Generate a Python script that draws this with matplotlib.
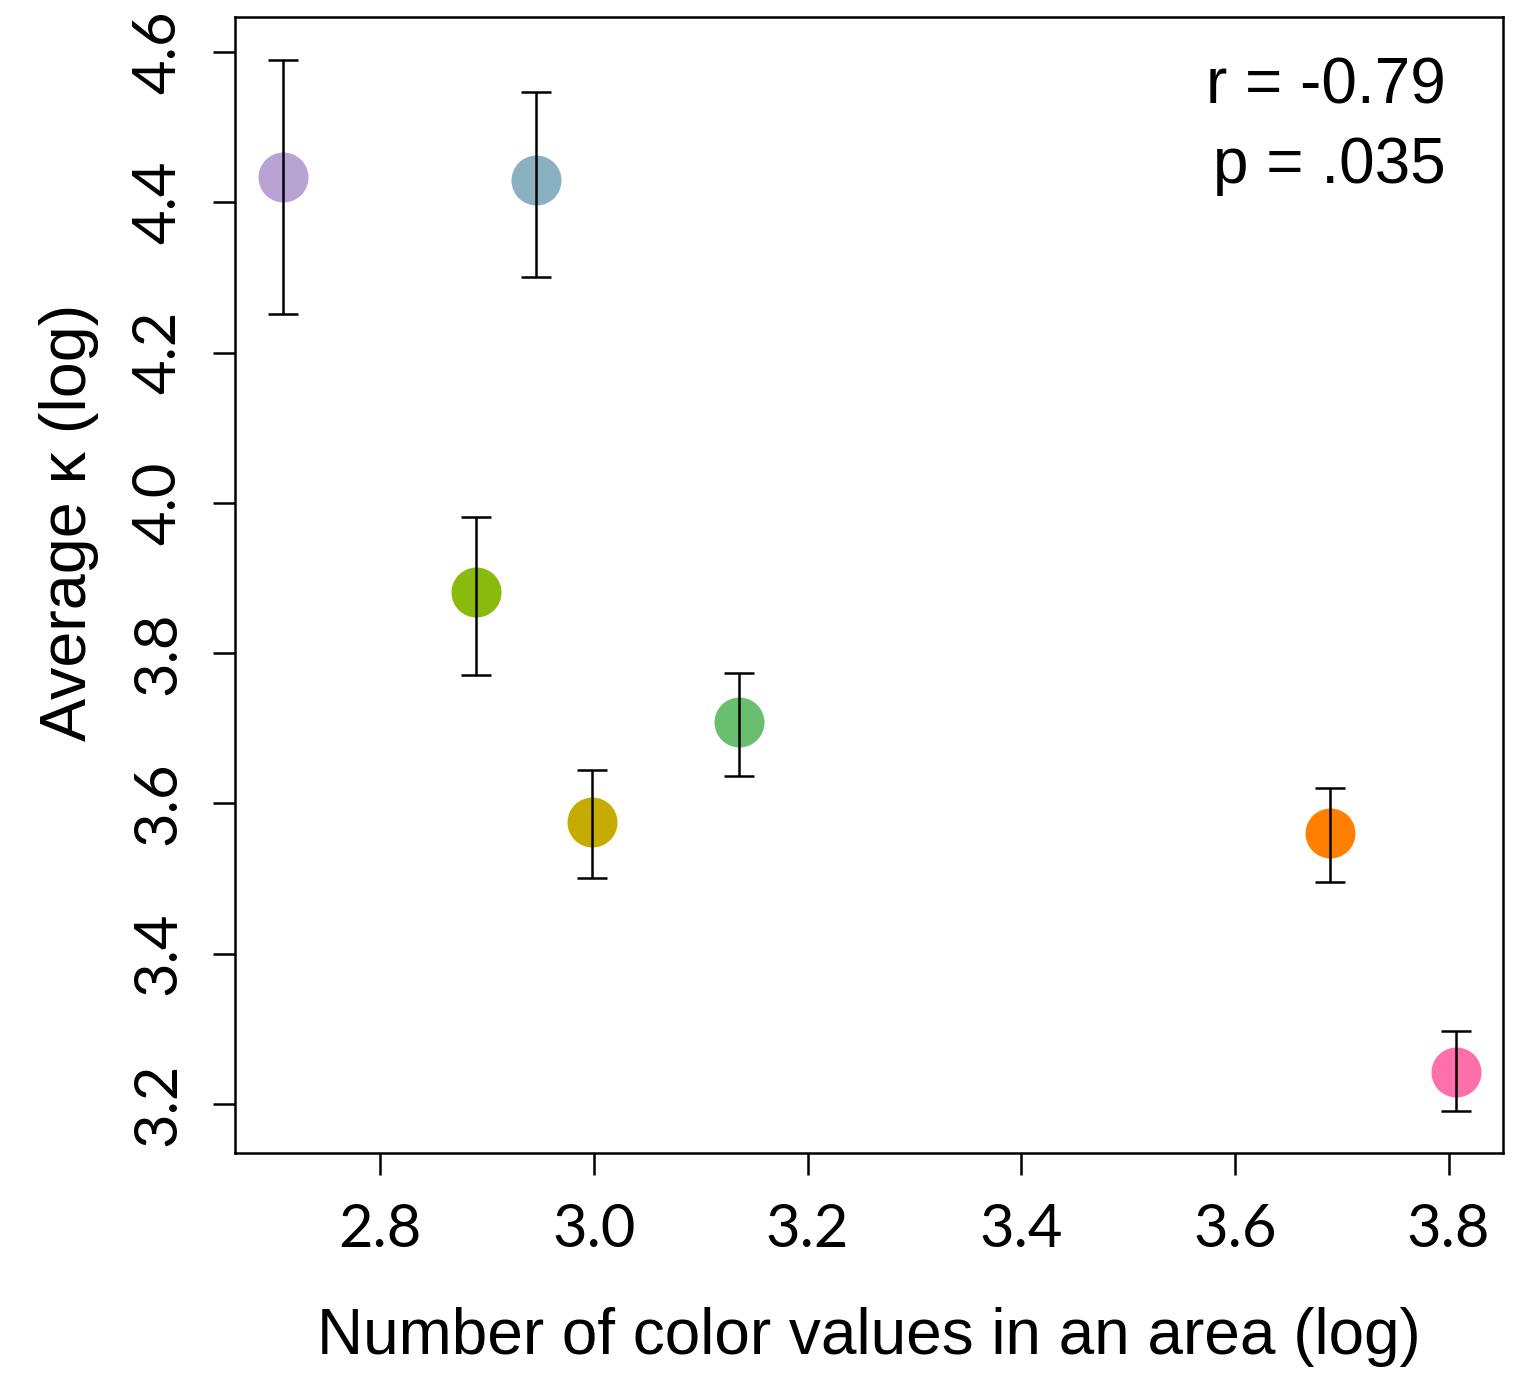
import matplotlib
matplotlib.use("Agg")
import matplotlib.pyplot as plt
import numpy as np

# values
x_vals = [2.709, 2.946, 2.890, 2.998, 3.136, 3.689, 3.807]
y_vals = [4.434, 4.430, 3.881, 3.575, 3.708, 3.560, 3.243]
err_hi = [4.589, 4.547, 3.981, 3.645, 3.774, 3.620, 3.297]
err_lo = [4.251, 4.300, 3.771, 3.501, 3.637, 3.495, 3.191]
colors = ["#B9A2D4", "#89B1C1", "#8BBA0E", "#C6AB00", "#69BE70", "#FF8000", "#FF6FAA"]
xticks = [2.8, 3.0, 3.2, 3.4, 3.6, 3.8]
yticks = [3.2, 3.4, 3.6, 3.8, 4.0, 4.2, 4.4, 4.6]

fig = plt.figure(figsize=(15.28, 13.75), dpi=100)
ax = fig.add_axes([235 / 1528, 1 - 1153 / 1375, (1503 - 235) / 1528, (1153 - 17) / 1375])

for x, y, hi, lo, c in zip(x_vals, y_vals, err_hi, err_lo, colors):
    ax.plot(x, y, "o", ms=36, color=c, mec="none", zorder=2)
    ax.errorbar(x, y, yerr=[[y - lo], [hi - y]], fmt="none", ecolor="black",
                elinewidth=1.8, capsize=11, capthick=1.8, zorder=3)

ax.set_xlim(2.664, 3.851)
ax.set_ylim(3.1348, 4.6466)
ax.set_xticks(xticks)
ax.set_yticks(yticks)
ax.set_xticklabels([f"{t:.1f}" for t in xticks], fontfamily="Lato", fontsize=43)
ax.set_yticklabels([f"{t:.1f}" for t in yticks], fontfamily="Lato", fontsize=43,
                   rotation=90, va="center")
ax.tick_params(axis="both", direction="out", length=16, width=1.8)
ax.tick_params(axis="x", pad=20)
ax.tick_params(axis="y", pad=20)
for s in ax.spines.values():
    s.set_linewidth(1.8)

ax.set_xlabel("Number of color values in an area (log)", fontfamily="Liberation Sans",
              fontsize=46, labelpad=36)
ax.set_ylabel("Average \u03ba (log)", fontfamily="Liberation Sans", fontsize=46.5)
ax.yaxis.set_label_coords(-0.107, 0.555)

ax.text(0.955, 0.965, "r = -0.79\np = .035", transform=ax.transAxes, ha="right", va="top",
        fontfamily="Liberation Sans", fontsize=46, linespacing=1.4)

fig.savefig("out.png", dpi=100)
